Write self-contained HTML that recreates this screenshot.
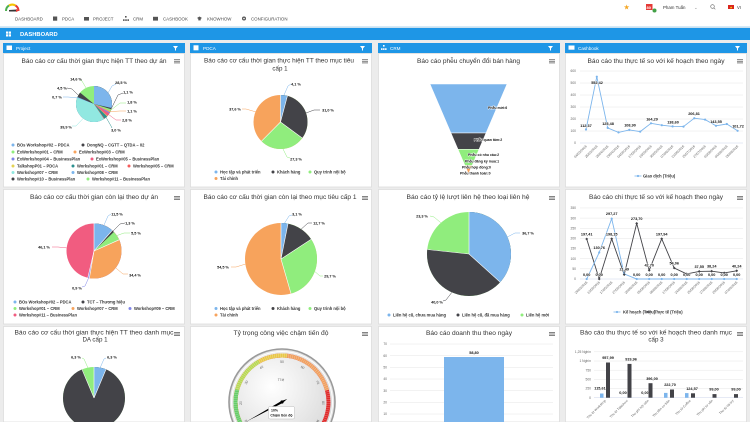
<!DOCTYPE html>
<html><head><meta charset="utf-8"><style>
html,body{margin:0;padding:0;background:#ececec;width:750px;height:422px;overflow:hidden}
svg{display:block;font-family:"Liberation Sans","DejaVu Sans",sans-serif;overflow:hidden}
.nav{font-size:4.4px;fill:#4a4a4a}
.t{font-size:6.2px;fill:#333;text-anchor:middle}
.axr{font-size:3.3px;fill:#666;text-anchor:end}
.ax{font-size:3.3px;fill:#666}
.dl{font-size:3.8px;font-weight:bold;fill:#111;stroke:#fff;stroke-width:.7px;paint-order:stroke;text-anchor:middle}
.fl{font-size:3.5px;font-weight:bold;fill:#111;stroke:#fff;stroke-width:.7px;paint-order:stroke}
.lg{font-size:4.1px;font-weight:bold;fill:#333}
.pl{font-size:3.8px;font-weight:bold;fill:#111;text-anchor:middle}
.ph{font-size:4.6px;fill:#fff}
.gl{font-size:3.4px;fill:#666;text-anchor:middle}
</style></head><body>
<svg width="750" height="422" viewBox="0 0 750 422" xmlns="http://www.w3.org/2000/svg">
<defs>
<radialGradient id="gf" cx="40%" cy="35%" r="70%"><stop offset="0" stop-color="#ffffff"/><stop offset="1" stop-color="#d8d8d8"/></radialGradient>
<clipPath id="cp"><rect x="0" y="0" width="750" height="422"/></clipPath>
</defs>
<rect width="750" height="422" fill="#ececec"/>
<!-- top nav -->
<rect width="750" height="27" fill="#fff"/>
<rect y="26.5" width="750" height="1" fill="#a9d5f2"/>
<rect y="28" width="750" height="12" fill="#1e96e6"/>
<!-- logo -->
<path d="M6,11 A6.5,6.5 0 0 1 9,5.5" fill="none" stroke="#4caf50" stroke-width="2"/>
<path d="M9,5.5 A6.5,6.5 0 0 1 15.5,5.5" fill="none" stroke="#f6c200" stroke-width="2"/>
<path d="M15.5,5.5 A6.5,6.5 0 0 1 18.5,11" fill="none" stroke="#e53935" stroke-width="2"/>
<polygon points="9,10 17,9.5 17,11.5 9,11.5" fill="#333"/>
<polygon points="16,9 19.5,10.5 16,12" fill="#e53935"/>
<text x="15" y="20.5" class="nav">DASHBOARD</text>
<rect x="53" y="16.5" width="4.2" height="4.2" fill="#555"/>
<text x="62" y="20.5" class="nav">PDCA</text>
<rect x="84" y="17" width="5" height="3.6" fill="#555"/>
<text x="93" y="20.5" class="nav">PROJECT</text>
<rect x="125" y="16" width="1.6" height="1.6" fill="#555"/><rect x="123" y="19.3" width="1.6" height="1.6" fill="#555"/><rect x="125.2" y="19.3" width="1.6" height="1.6" fill="#555"/><rect x="127.4" y="19.3" width="1.6" height="1.6" fill="#555"/>
<text x="133" y="20.5" class="nav">CRM</text>
<rect x="153" y="16.8" width="5" height="3.8" fill="#555"/>
<text x="163" y="20.5" class="nav">CASHBOOK</text>
<polygon points="197,18 199.5,16.5 202,18 199.5,19.5" fill="#555"/><rect x="198.3" y="18.6" width="2.4" height="1.8" fill="#555"/>
<text x="207" y="20.5" class="nav">KNOWHOW</text>
<circle cx="244" cy="18.5" r="2" fill="#555"/><circle cx="244" cy="18.5" r="0.8" fill="#fff"/>
<text x="251" y="20.5" class="nav">CONFIGURATION</text>
<text x="623.5" y="9.5" style="font-size:7px;fill:#f5a623">★</text>
<rect x="646" y="4" width="6.5" height="6" fill="#e53935"/>
<text x="646.5" y="9" style="font-size:4px;font-weight:bold;fill:#fff">80</text>
<circle cx="654.5" cy="10.5" r="2" fill="#43a047"/>
<text x="663" y="9" style="font-size:4.4px;fill:#333">Pham Tuấn</text>
<text x="694" y="9" style="font-size:4.4px;fill:#888">⌄</text>
<circle cx="712.5" cy="6.5" r="1.8" fill="none" stroke="#666" stroke-width="0.6"/><line x1="713.8" y1="7.8" x2="715.3" y2="9.3" stroke="#666" stroke-width="0.6"/>
<rect x="728" y="5" width="6" height="4" fill="#da251d"/><text x="729.8" y="8.3" style="font-size:3px;fill:#ff0">★</text>
<text x="737" y="9" style="font-size:4.2px;fill:#333">VI</text>
<!-- dashboard bar -->
<rect x="6" y="31.5" width="2.2" height="2.2" fill="#fff"/><rect x="8.8" y="31.5" width="2.2" height="2.2" fill="#fff"/><rect x="6" y="34.3" width="2.2" height="2.2" fill="#fff"/><rect x="8.8" y="34.3" width="2.2" height="2.2" fill="#fff"/>
<text x="20" y="36.2" style="font-size:5.8px;font-weight:bold;fill:#fff">DASHBOARD</text>

<!-- panel headers -->
<rect x="3" y="43" width="182" height="10" fill="#1e96e6"/>
<rect x="190" y="43" width="182" height="10" fill="#1e96e6"/>
<rect x="378" y="43" width="182" height="10" fill="#1e96e6"/>
<rect x="565" y="43" width="182" height="10" fill="#1e96e6"/>
<rect x="6.5" y="45.5" width="5.5" height="4.5" fill="#fff"/><text x="16" y="49.8" class="ph">Project</text>
<rect x="193.5" y="45.3" width="5" height="5" fill="#fff"/><text x="203" y="49.8" class="ph">PDCA</text>
<rect x="383" y="45" width="1.6" height="1.6" fill="#fff"/><rect x="381" y="48.3" width="1.6" height="1.6" fill="#fff"/><rect x="383" y="48.3" width="1.6" height="1.6" fill="#fff"/><rect x="385" y="48.3" width="1.6" height="1.6" fill="#fff"/><text x="390" y="49.8" class="ph">CRM</text>
<rect x="568.5" y="45.5" width="6" height="4.2" fill="#fff"/><text x="578" y="49.8" class="ph">Cashbook</text>
<polygon points="173,46 178,46 176,48.5 176,50.5 175,50.5 175,48.5" fill="#fff"/>
<polygon points="360,46 365,46 363,48.5 363,50.5 362,50.5 362,48.5" fill="#fff"/>
<polygon points="548,46 553,46 551,48.5 551,50.5 550,50.5 550,48.5" fill="#fff"/>
<polygon points="735,46 740,46 738,48.5 738,50.5 737,50.5 737,48.5" fill="#fff"/>

<!-- chart boxes -->
<g fill="#fff" stroke="#dcdcdc" stroke-width="0.8">
<rect x="3.5" y="53.5" width="181" height="133.5"/><rect x="190.5" y="53.5" width="181" height="133.5"/><rect x="378.5" y="53.5" width="181" height="133.5"/><rect x="565.5" y="53.5" width="181" height="133.5"/>
<rect x="3.5" y="189.5" width="181" height="134.5"/><rect x="190.5" y="189.5" width="181" height="134.5"/><rect x="378.5" y="189.5" width="181" height="134.5"/><rect x="565.5" y="189.5" width="181" height="134.5"/>
<rect x="3.5" y="326.5" width="181" height="95.5"/><rect x="190.5" y="326.5" width="181" height="95.5"/><rect x="378.5" y="326.5" width="181" height="95.5"/><rect x="565.5" y="326.5" width="181" height="95.5"/>
</g>

<!-- hamburgers -->
<g fill="#666">
<rect x="174" y="59.3" width="6" height="0.8"/><rect x="174" y="60.9" width="6" height="0.8"/><rect x="174" y="62.5" width="6" height="0.8"/>
<rect x="362" y="59.3" width="6" height="0.8"/><rect x="362" y="60.9" width="6" height="0.8"/><rect x="362" y="62.5" width="6" height="0.8"/>
<rect x="549" y="59.3" width="6" height="0.8"/><rect x="549" y="60.9" width="6" height="0.8"/><rect x="549" y="62.5" width="6" height="0.8"/>
<rect x="737" y="59.3" width="6" height="0.8"/><rect x="737" y="60.9" width="6" height="0.8"/><rect x="737" y="62.5" width="6" height="0.8"/>
<rect x="174" y="196" width="6" height="0.8"/><rect x="174" y="197.6" width="6" height="0.8"/><rect x="174" y="199.2" width="6" height="0.8"/>
<rect x="362" y="196" width="6" height="0.8"/><rect x="362" y="197.6" width="6" height="0.8"/><rect x="362" y="199.2" width="6" height="0.8"/>
<rect x="549" y="196" width="6" height="0.8"/><rect x="549" y="197.6" width="6" height="0.8"/><rect x="549" y="199.2" width="6" height="0.8"/>
<rect x="737" y="196" width="6" height="0.8"/><rect x="737" y="197.6" width="6" height="0.8"/><rect x="737" y="199.2" width="6" height="0.8"/>
<rect x="174" y="332" width="6" height="0.8"/><rect x="174" y="333.6" width="6" height="0.8"/><rect x="174" y="335.2" width="6" height="0.8"/>
<rect x="362" y="332" width="6" height="0.8"/><rect x="362" y="333.6" width="6" height="0.8"/><rect x="362" y="335.2" width="6" height="0.8"/>
<rect x="549" y="332" width="6" height="0.8"/><rect x="549" y="333.6" width="6" height="0.8"/><rect x="549" y="335.2" width="6" height="0.8"/>
<rect x="737" y="332" width="6" height="0.8"/><rect x="737" y="333.6" width="6" height="0.8"/><rect x="737" y="335.2" width="6" height="0.8"/>
</g>

<!-- titles -->
<text x="94" y="63" class="t" textLength="145" lengthAdjust="spacingAndGlyphs">Báo cáo cơ cấu thời gian thực hiện TT theo dự án</text>
<text x="279" y="62.7" class="t" textLength="150" lengthAdjust="spacingAndGlyphs">Báo cáo cơ cấu thời gian thực hiện TT theo mục tiêu</text>
<text x="280" y="70.3" class="t">cấp 1</text>
<text x="468.5" y="63" class="t" textLength="103" lengthAdjust="spacingAndGlyphs">Báo cáo phễu chuyển đổi bán hàng</text>
<text x="656" y="63" class="t" textLength="137" lengthAdjust="spacingAndGlyphs">Báo cáo thu thực tế so với kế hoạch theo ngày</text>
<text x="94" y="199" class="t" textLength="128" lengthAdjust="spacingAndGlyphs">Báo cáo cơ cấu thời gian còn lại theo dự án</text>
<text x="280" y="199" class="t" textLength="153" lengthAdjust="spacingAndGlyphs">Báo cáo cơ cấu thời gian còn lại theo mục tiêu cấp 1</text>
<text x="468" y="199" class="t" textLength="123" lengthAdjust="spacingAndGlyphs">Báo cáo tỷ lệ lượt liên hệ theo loại liên hệ</text>
<text x="656" y="199" class="t" textLength="134" lengthAdjust="spacingAndGlyphs">Báo cáo chi thực tế so với kế hoạch theo ngày</text>
<text x="94" y="334.7" class="t" textLength="159" lengthAdjust="spacingAndGlyphs">Báo cáo cơ cấu thời gian thực hiện TT theo danh mục</text>
<text x="95" y="341.5" class="t">DA cấp 1</text>
<text x="281" y="335" class="t" textLength="95" lengthAdjust="spacingAndGlyphs">Tỷ trọng công việc chậm tiến độ</text>
<text x="469" y="335" class="t" textLength="86" lengthAdjust="spacingAndGlyphs">Báo cáo doanh thu theo ngày</text>
<text x="656" y="334.7" class="t" textLength="152" lengthAdjust="spacingAndGlyphs">Báo cáo thu thực tế so với kế hoạch theo danh mục</text>
<text x="656" y="341.5" class="t">cấp 3</text>

<!-- CHART 1 pie -->
<g fill="none" stroke-width="18" transform="rotate(-90 94 104)">
<circle cx="94" cy="104" r="18" fill="#90ed7d" stroke="none"/>
<circle cx="94" cy="104" r="9" stroke="#434348" stroke-dasharray="48.293 60"/>
<circle cx="94" cy="104" r="9" stroke="#7cb5ec" stroke-dasharray="45.748 60"/>
<circle cx="94" cy="104" r="9" stroke="#91e8e1" stroke-dasharray="45.352 60"/>
<circle cx="94" cy="104" r="9" stroke="#f45b5b" stroke-dasharray="22.789 60"/>
<circle cx="94" cy="104" r="9" stroke="#2b908f" stroke-dasharray="22.507 60"/>
<circle cx="94" cy="104" r="9" stroke="#e4d354" stroke-dasharray="20.810 60"/>
<circle cx="94" cy="104" r="9" stroke="#f15c80" stroke-dasharray="20.527 60"/>
<circle cx="94" cy="104" r="9" stroke="#8085e9" stroke-dasharray="18.944 60"/>
<circle cx="94" cy="104" r="9" stroke="#f7a35c" stroke-dasharray="18.378 60"/>
<circle cx="94" cy="104" r="9" stroke="#90ed7d" stroke-dasharray="17.756 60"/>
<circle cx="94" cy="104" r="9" stroke="#434348" stroke-dasharray="16.739 60"/>
<circle cx="94" cy="104" r="9" stroke="#7cb5ec" stroke-dasharray="16.116 60"/>
</g>
<g stroke-width="0.5" fill="none">
<polyline points="108,93 112,86 116,84" stroke="#7cb5ec"/>
<polyline points="111.4,108.5 118,95 123,93" stroke="#434348"/>
<polyline points="110.9,110.1 120,103 126,103" stroke="#90ed7d"/>
<polyline points="110.3,111.6 120,111 126,111" stroke="#f7a35c"/>
<polyline points="108.6,114.5 116,120 121,120" stroke="#f15c80"/>
<polyline points="106.1,117.4 111,126 112,128" stroke="#2b908f"/>
<polyline points="83.2,118.4 76,126 72,126" stroke="#91e8e1"/>
<polyline points="77.1,97.8 68,97 63,97" stroke="#7cb5ec"/>
<polyline points="78.3,95.2 72,89 67,88" stroke="#434348"/>
<polyline points="86,87.9 82,81 80,80" stroke="#90ed7d"/>
</g>
<text x="121" y="84" class="pl">28,5 %</text>
<text x="128" y="93.5" class="pl">1,1 %</text>
<text x="132" y="103.5" class="pl">1,8 %</text>
<text x="132" y="112.5" class="pl">1,1 %</text>
<text x="127" y="121.5" class="pl">2,8 %</text>
<text x="116" y="131.5" class="pl">3,0 %</text>
<text x="66" y="128.5" class="pl">39,9 %</text>
<text x="57" y="98.5" class="pl">0,7 %</text>
<text x="62" y="89.5" class="pl">4,5 %</text>
<text x="76" y="80.5" class="pl">14,6 %</text>
<!-- legend 1 -->
<circle cx="13" cy="145" r="1.5" fill="#7cb5ec"/><text x="17" y="146.5" class="lg">BOs Workshop#02 – PDCA</text>
<circle cx="83" cy="145" r="1.5" fill="#434348"/><text x="87" y="146.5" class="lg">DongNQ – CGTT – QTDA – 02</text>
<circle cx="13" cy="152" r="1.5" fill="#90ed7d"/><text x="17" y="153.5" class="lg">ExWorkshop#01 – CRM</text>
<circle cx="75" cy="152" r="1.5" fill="#f7a35c"/><text x="79" y="153.5" class="lg">ExWorkshop#03 – CRM</text>
<circle cx="13" cy="159" r="1.5" fill="#8085e9"/><text x="17" y="160.5" class="lg">ExWorkshop#04 – BusinessPlan</text>
<circle cx="92" cy="159" r="1.5" fill="#f15c80"/><text x="96" y="160.5" class="lg">ExWorkshop#05 – BusinessPlan</text>
<circle cx="13" cy="166" r="1.5" fill="#e4d354"/><text x="17" y="167.5" class="lg">TalkshopP01 – PDCA</text>
<circle cx="73" cy="166" r="1.5" fill="#2b908f"/><text x="77" y="167.5" class="lg">Workshop#01 – CRM</text>
<circle cx="129" cy="166" r="1.5" fill="#f45b5b"/><text x="133" y="167.5" class="lg">Workshop#05 – CRM</text>
<circle cx="13" cy="172.5" r="1.5" fill="#91e8e1"/><text x="17" y="174" class="lg">Workshop#07 – CRM</text>
<circle cx="73" cy="172.5" r="1.5" fill="#7cb5ec"/><text x="77" y="174" class="lg">Workshop#08 – CRM</text>
<circle cx="13" cy="179" r="1.5" fill="#434348"/><text x="17" y="180.5" class="lg">Workshop#10 – BusinessPlan</text>
<circle cx="88" cy="179" r="1.5" fill="#90ed7d"/><text x="92" y="180.5" class="lg">Workshop#11 – BusinessPlan</text>

<!-- CHART 2 pie -->
<g fill="none" stroke-width="27" transform="rotate(-90 280.5 122)">
<circle cx="280.5" cy="122" r="27" fill="#f7a35c" stroke="none"/>
<circle cx="280.5" cy="122" r="13.5" stroke="#90ed7d" stroke-dasharray="52.930 90"/>
<circle cx="280.5" cy="122" r="13.5" stroke="#434348" stroke-dasharray="29.773 90"/>
<circle cx="280.5" cy="122" r="13.5" stroke="#7cb5ec" stroke-dasharray="3.478 90"/>
</g>
<g stroke="#fff" stroke-width="0.6">
<line x1="280.5" y1="122" x2="280.5" y2="95"/><line x1="280.5" y1="122" x2="287.4" y2="95.9"/><line x1="280.5" y1="122" x2="302.2" y2="138"/><line x1="280.5" y1="122" x2="261.5" y2="141.2"/>
</g>
<g stroke-width="0.5" fill="none">
<polyline points="284,95 288,86 291,84" stroke="#7cb5ec"/>
<polyline points="306,113 314,110 320,110" stroke="#434348"/>
<polyline points="283,149 287,157 290,158" stroke="#90ed7d"/>
<polyline points="255.5,111.8 246,109 242,109" stroke="#f7a35c"/>
</g>
<text x="296" y="85.5" class="pl">4,1 %</text>
<text x="328" y="111.5" class="pl">31,0 %</text>
<text x="296" y="160.5" class="pl">27,3 %</text>
<text x="235" y="110.5" class="pl">37,6 %</text>
<circle cx="216" cy="172" r="1.5" fill="#7cb5ec"/><text x="220" y="173.5" class="lg">Học tập và phát triển</text>
<circle cx="273" cy="172" r="1.5" fill="#434348"/><text x="277" y="173.5" class="lg">Khách hàng</text>
<circle cx="310" cy="172" r="1.5" fill="#90ed7d"/><text x="314" y="173.5" class="lg">Quy trình nội bộ</text>
<circle cx="216" cy="178.5" r="1.5" fill="#f7a35c"/><text x="220" y="180" class="lg">Tài chính</text>

<!-- CHART 3 funnel -->
<g stroke="#fff" stroke-width="0.5">
<polygon points="430,84 507,84 486,133 451,133" fill="#7cb5ec"/>
<polygon points="451,133 486,133 479,149.3 458,149.3" fill="#434348"/>
<polygon points="458,149.3 479,149.3 472,165.6 465,165.6" fill="#90ed7d"/>
<polygon points="465,165.6 472,165.6 468.5,173.8" fill="#f7a35c"/>
</g>
<text x="488" y="109.2" class="fl">Phễu mới:6</text>
<text x="474" y="141" class="fl">Phễu quan tâm:2</text>
<text x="468" y="156" class="fl">Phễu có nhu cầu:2</text>
<text x="465" y="162.3" class="fl">Phễu đăng ký mua:1</text>
<text x="462" y="168.5" class="fl">Phễu hợp đồng:0</text>
<text x="460" y="174.5" class="fl">Phễu thanh toán:0</text>

<!-- CHART 4 line -->
<g stroke="#e6e6e6" stroke-width="0.5">
<line x1="580" y1="71" x2="743" y2="71"/><line x1="580" y1="83" x2="743" y2="83"/><line x1="580" y1="95" x2="743" y2="95"/><line x1="580" y1="107" x2="743" y2="107"/><line x1="580" y1="119" x2="743" y2="119"/><line x1="580" y1="131" x2="743" y2="131"/>
</g>
<line x1="580" y1="143" x2="743" y2="143" stroke="#ccd6eb" stroke-width="0.5"/>
<text x="576" y="72.2" class="axr">600</text><text x="576" y="84.2" class="axr">500</text><text x="576" y="96.2" class="axr">400</text><text x="576" y="108.2" class="axr">300</text><text x="576" y="120.2" class="axr">200</text><text x="576" y="132.2" class="axr">100</text><text x="576" y="144.2" class="axr">0</text>
<polyline points="586,129.5 596.8,76.7 607.7,127.9 618.5,132.4 629.3,129.9 640.2,131.6 651,123.3 661.8,125.2 672.6,126.4 683.5,126.6 694.3,118.2 705.1,119.6 716,125.8 726.8,124 737.6,130.8" fill="none" stroke="#7cb5ec" stroke-width="0.9"/>
<g fill="#7cb5ec">
<circle cx="586" cy="129.5" r="1.1"/><circle cx="596.8" cy="76.7" r="1.1"/><circle cx="607.7" cy="127.9" r="1.1"/><circle cx="618.5" cy="132.4" r="1.1"/><circle cx="629.3" cy="129.9" r="1.1"/><circle cx="640.2" cy="131.6" r="1.1"/><circle cx="651" cy="123.3" r="1.1"/><circle cx="661.8" cy="125.2" r="1.1"/><circle cx="672.6" cy="126.4" r="1.1"/><circle cx="683.5" cy="126.6" r="1.1"/><circle cx="694.3" cy="118.2" r="1.1"/><circle cx="705.1" cy="119.6" r="1.1"/><circle cx="716" cy="125.8" r="1.1"/><circle cx="726.8" cy="124" r="1.1"/><circle cx="737.6" cy="130.8" r="1.1"/>
</g>
<text x="586" y="127" class="dl">112,37</text>
<text x="597" y="84" class="dl">552,42</text>
<text x="608" y="125" class="dl">125,48</text>
<text x="630" y="126.5" class="dl">108,90</text>
<text x="652" y="120.5" class="dl">164,29</text>
<text x="673" y="123.5" class="dl">138,60</text>
<text x="694" y="115" class="dl">206,81</text>
<text x="716" y="123" class="dl">143,55</text>
<text x="738" y="127.5" class="dl">101,72</text>
<text x="587" y="146.5" transform="rotate(-45 587 146.5)" text-anchor="end" class="ax">04/03/2016</text>
<text x="597.8" y="146.5" transform="rotate(-45 597.8 146.5)" text-anchor="end" class="ax">26/03/2016</text>
<text x="608.7" y="146.5" transform="rotate(-45 608.7 146.5)" text-anchor="end" class="ax">28/04/2016</text>
<text x="619.5" y="146.5" transform="rotate(-45 619.5 146.5)" text-anchor="end" class="ax">29/04/2016</text>
<text x="630.3" y="146.5" transform="rotate(-45 630.3 146.5)" text-anchor="end" class="ax">04/05/2016</text>
<text x="641.2" y="146.5" transform="rotate(-45 641.2 146.5)" text-anchor="end" class="ax">17/05/2016</text>
<text x="652" y="146.5" transform="rotate(-45 652 146.5)" text-anchor="end" class="ax">19/05/2016</text>
<text x="662.8" y="146.5" transform="rotate(-45 662.8 146.5)" text-anchor="end" class="ax">30/05/2016</text>
<text x="673.6" y="146.5" transform="rotate(-45 673.6 146.5)" text-anchor="end" class="ax">07/06/2016</text>
<text x="684.5" y="146.5" transform="rotate(-45 684.5 146.5)" text-anchor="end" class="ax">21/06/2016</text>
<text x="695.3" y="146.5" transform="rotate(-45 695.3 146.5)" text-anchor="end" class="ax">25/07/2016</text>
<text x="706.1" y="146.5" transform="rotate(-45 706.1 146.5)" text-anchor="end" class="ax">27/07/2016</text>
<text x="717" y="146.5" transform="rotate(-45 717 146.5)" text-anchor="end" class="ax">03/08/2016</text>
<text x="727.8" y="146.5" transform="rotate(-45 727.8 146.5)" text-anchor="end" class="ax">04/08/2016</text>
<text x="738.6" y="146.5" transform="rotate(-45 738.6 146.5)" text-anchor="end" class="ax">26/08/2016</text>
<line x1="634.5" y1="176" x2="641.5" y2="176" stroke="#7cb5ec" stroke-width="0.8"/><circle cx="638" cy="176" r="1.1" fill="#7cb5ec"/>
<text x="643" y="177.5" class="lg">Giao dịch (Triệu)</text>

<!-- CHART 5 pie -->
<g fill="none" stroke-width="27.5" transform="rotate(-90 94 251)">
<circle cx="94" cy="251" r="27.5" fill="#f15c80" stroke="none"/>
<circle cx="94" cy="251" r="13.75" stroke="#8085e9" stroke-dasharray="46.307 90"/>
<circle cx="94" cy="251" r="13.75" stroke="#f7a35c" stroke-dasharray="45.530 90"/>
<circle cx="94" cy="251" r="13.75" stroke="#90ed7d" stroke-dasharray="15.810 90"/>
<circle cx="94" cy="251" r="13.75" stroke="#434348" stroke-dasharray="11.058 90"/>
<circle cx="94" cy="251" r="13.75" stroke="#7cb5ec" stroke-dasharray="9.935 90"/>
</g>
<g stroke="#fff" stroke-width="0.6">
<line x1="94" y1="251" x2="94" y2="223.5"/><line x1="94" y1="251" x2="112.2" y2="230.4"/><line x1="94" y1="251" x2="119.1" y2="239.8"/><line x1="94" y1="251" x2="89.4" y2="278.1"/><line x1="94" y1="251" x2="87.8" y2="277.8"/>
</g>
<g stroke-width="0.5" fill="none">
<polyline points="104,225 108,216 111,214" stroke="#7cb5ec"/>
<polyline points="113,231.1 120,224 125,223" stroke="#434348"/>
<polyline points="116.8,235.6 124,233 130,233" stroke="#90ed7d"/>
<polyline points="115.7,267.9 123,274 128,274" stroke="#f7a35c"/>
<polyline points="88.6,278 85,286 82,287" stroke="#8085e9"/>
<polyline points="66.7,247.9 58,247 52,247" stroke="#f15c80"/>
</g>
<text x="117" y="215.5" class="pl">11,5 %</text>
<text x="130" y="224.5" class="pl">1,3 %</text>
<text x="136" y="234.5" class="pl">5,5 %</text>
<text x="135" y="276.5" class="pl">34,4 %</text>
<text x="77" y="289.5" class="pl">0,9 %</text>
<text x="44" y="248.5" class="pl">46,1 %</text>
<circle cx="15" cy="302" r="1.5" fill="#7cb5ec"/><text x="19" y="303.5" class="lg">BOs Workshop#02 – PDCA</text>
<circle cx="83" cy="302" r="1.5" fill="#434348"/><text x="87" y="303.5" class="lg">TCT – Thương hiệu</text>
<circle cx="15" cy="308.5" r="1.5" fill="#90ed7d"/><text x="19" y="310" class="lg">Workshop#01 – CRM</text>
<circle cx="73" cy="308.5" r="1.5" fill="#f7a35c"/><text x="77" y="310" class="lg">Workshop#07 – CRM</text>
<circle cx="130" cy="308.5" r="1.5" fill="#8085e9"/><text x="134" y="310" class="lg">Workshop#09 – CRM</text>
<circle cx="15" cy="315" r="1.5" fill="#f15c80"/><text x="19" y="316.5" class="lg">Workshop#11 – BusinessPlan</text>

<!-- CHART 6 pie -->
<g fill="none" stroke-width="36" transform="rotate(-90 281 259)">
<circle cx="281" cy="259" r="36" fill="#f7a35c" stroke="none"/>
<circle cx="281" cy="259" r="18" stroke="#90ed7d" stroke-dasharray="51.459 120"/>
<circle cx="281" cy="259" r="18" stroke="#434348" stroke-dasharray="17.869 120"/>
<circle cx="281" cy="259" r="18" stroke="#7cb5ec" stroke-dasharray="3.506 120"/>
</g>
<g stroke="#fff" stroke-width="0.6">
<line x1="281" y1="259" x2="281" y2="223"/><line x1="281" y1="259" x2="288" y2="223.7"/><line x1="281" y1="259" x2="311.2" y2="239.3"/><line x1="281" y1="259" x2="291" y2="293.6"/>
</g>
<g stroke-width="0.5" fill="none">
<polyline points="284.5,223.2 289,216 292,215" stroke="#7cb5ec"/>
<polyline points="301.1,229.2 308,223 312,223" stroke="#434348"/>
<polyline points="314.8,271.5 320,276 323,276" stroke="#90ed7d"/>
<polyline points="245.4,264.1 236,267 231,267" stroke="#f7a35c"/>
</g>
<text x="297" y="215.5" class="pl">3,1 %</text>
<text x="319" y="224.5" class="pl">12,7 %</text>
<text x="330" y="277.5" class="pl">29,7 %</text>
<text x="223" y="268.5" class="pl">54,5 %</text>
<circle cx="216" cy="308.5" r="1.5" fill="#7cb5ec"/><text x="220" y="310" class="lg">Học tập và phát triển</text>
<circle cx="273" cy="308.5" r="1.5" fill="#434348"/><text x="277" y="310" class="lg">Khách hàng</text>
<circle cx="310" cy="308.5" r="1.5" fill="#90ed7d"/><text x="314" y="310" class="lg">Quy trình nội bộ</text>
<circle cx="216" cy="315" r="1.5" fill="#f7a35c"/><text x="220" y="316.5" class="lg">Tài chính</text>

<!-- CHART 7 pie -->
<g fill="none" stroke-width="42" transform="rotate(-90 469 254)">
<circle cx="469" cy="254" r="42" fill="#90ed7d" stroke="none"/>
<circle cx="469" cy="254" r="21" stroke="#434348" stroke-dasharray="101.203 140"/>
<circle cx="469" cy="254" r="21" stroke="#7cb5ec" stroke-dasharray="48.425 140"/>
</g>
<g stroke="#fff" stroke-width="0.6">
<line x1="469" y1="254" x2="469" y2="212"/><line x1="469" y1="254" x2="500.2" y2="282.2"/><line x1="469" y1="254" x2="427.2" y2="249.5"/>
</g>
<g stroke-width="0.5" fill="none">
<polyline points="507.4,237 515,233 520,233" stroke="#7cb5ec"/>
<polyline points="451.9,292.3 446,300 443,301" stroke="#434348"/>
<polyline points="440.9,222.8 434,217 430,216" stroke="#90ed7d"/>
</g>
<text x="528" y="234.5" class="pl">36,7 %</text>
<text x="437" y="303.5" class="pl">40,0 %</text>
<text x="422" y="217.5" class="pl">23,3 %</text>
<circle cx="389" cy="315" r="1.5" fill="#7cb5ec"/><text x="393" y="316.5" class="lg">Liên hệ cũ, chưa mua hàng</text>
<circle cx="458" cy="315" r="1.5" fill="#434348"/><text x="462" y="316.5" class="lg">Liên hệ cũ, đã mua hàng</text>
<circle cx="522" cy="315" r="1.5" fill="#90ed7d"/><text x="526" y="316.5" class="lg">Liên hệ mới</text>

<!-- CHART 8 line -->
<g stroke="#e6e6e6" stroke-width="0.5">
<line x1="580" y1="207.95" x2="743" y2="207.95"/><line x1="580" y1="218.1" x2="743" y2="218.1"/><line x1="580" y1="228.25" x2="743" y2="228.25"/><line x1="580" y1="238.4" x2="743" y2="238.4"/><line x1="580" y1="248.55" x2="743" y2="248.55"/><line x1="580" y1="258.7" x2="743" y2="258.7"/><line x1="580" y1="268.85" x2="743" y2="268.85"/>
</g>
<line x1="580" y1="279" x2="743" y2="279" stroke="#ccd6eb" stroke-width="0.5"/>
<text x="576" y="209.1" class="axr">350</text><text x="576" y="219.3" class="axr">300</text><text x="576" y="229.4" class="axr">250</text><text x="576" y="239.6" class="axr">200</text><text x="576" y="249.7" class="axr">150</text><text x="576" y="259.9" class="axr">100</text><text x="576" y="270" class="axr">50</text><text x="576" y="280.2" class="axr">0</text>
<polyline points="586.7,239 599.2,279 611.7,238.8 624.2,274.6 636.7,223.4 649.2,270.3 661.7,238.8 674.2,268 686.7,273.9 699.2,271.4 711.7,271.2 724.2,272.9 736.7,270.8" fill="none" stroke="#434348" stroke-width="0.9"/>
<polyline points="586.7,279 599.2,252.5 611.7,218.7 624.2,273.9 636.7,279 736.7,279" fill="none" stroke="#7cb5ec" stroke-width="0.9"/>
<g fill="#7cb5ec">
<circle cx="586.7" cy="279" r="1.1"/><circle cx="599.2" cy="252.5" r="1.1"/><circle cx="611.7" cy="218.7" r="1.1"/><circle cx="624.2" cy="273.9" r="1.1"/><circle cx="636.7" cy="279" r="1.1"/><circle cx="649.2" cy="279" r="1.1"/><circle cx="661.7" cy="279" r="1.1"/><circle cx="674.2" cy="279" r="1.1"/><circle cx="686.7" cy="279" r="1.1"/><circle cx="699.2" cy="279" r="1.1"/><circle cx="711.7" cy="279" r="1.1"/><circle cx="724.2" cy="279" r="1.1"/><circle cx="736.7" cy="279" r="1.1"/>
</g>
<g fill="#434348">
<rect x="585.7" y="238" width="2" height="2" transform="rotate(45 586.7 239)"/><rect x="598.2" y="278" width="2" height="2" transform="rotate(45 599.2 279)"/><rect x="610.7" y="237.8" width="2" height="2" transform="rotate(45 611.7 238.8)"/><rect x="623.2" y="273.6" width="2" height="2" transform="rotate(45 624.2 274.6)"/><rect x="635.7" y="222.4" width="2" height="2" transform="rotate(45 636.7 223.4)"/><rect x="648.2" y="269.3" width="2" height="2" transform="rotate(45 649.2 270.3)"/><rect x="660.7" y="237.8" width="2" height="2" transform="rotate(45 661.7 238.8)"/><rect x="673.2" y="267" width="2" height="2" transform="rotate(45 674.2 268)"/><rect x="685.7" y="272.9" width="2" height="2" transform="rotate(45 686.7 273.9)"/><rect x="698.2" y="270.4" width="2" height="2" transform="rotate(45 699.2 271.4)"/><rect x="710.7" y="270.2" width="2" height="2" transform="rotate(45 711.7 271.2)"/><rect x="723.2" y="271.9" width="2" height="2" transform="rotate(45 724.2 272.9)"/><rect x="735.7" y="269.8" width="2" height="2" transform="rotate(45 736.7 270.8)"/>
</g>
<text x="586.7" y="235.5" class="dl">197,41</text>
<text x="586.7" y="276" class="dl">0,00</text>
<text x="599.2" y="249" class="dl">130,76</text>
<text x="599.2" y="276" class="dl">0,00</text>
<text x="611.7" y="215" class="dl">297,27</text>
<text x="611.7" y="235.3" class="dl">198,15</text>
<text x="624.2" y="270.5" class="dl">21,49</text>
<text x="636.7" y="220" class="dl">273,70</text>
<text x="636.7" y="276" class="dl">0,00</text>
<text x="649.2" y="266.5" class="dl">42,70</text>
<text x="649.2" y="276" class="dl">0,00</text>
<text x="661.7" y="235.3" class="dl">197,94</text>
<text x="661.7" y="276" class="dl">0,00</text>
<text x="674.2" y="264.5" class="dl">54,06</text>
<text x="674.2" y="276" class="dl">0,00</text>
<text x="686.7" y="276" class="dl">0,00</text>
<text x="699.2" y="267.8" class="dl">37,55</text>
<text x="699.2" y="276" class="dl">0,00</text>
<text x="711.7" y="267.6" class="dl">38,24</text>
<text x="711.7" y="276" class="dl">0,00</text>
<text x="724.2" y="276" class="dl">0,00</text>
<text x="736.7" y="267.3" class="dl">40,24</text>
<text x="736.7" y="276" class="dl">0,00</text>
<text x="587.7" y="282.5" transform="rotate(-45 587.7 282.5)" text-anchor="end" class="ax">29/03/2016</text>
<text x="600.2" y="282.5" transform="rotate(-45 600.2 282.5)" text-anchor="end" class="ax">13/05/2016</text>
<text x="612.7" y="282.5" transform="rotate(-45 612.7 282.5)" text-anchor="end" class="ax">17/05/2016</text>
<text x="625.2" y="282.5" transform="rotate(-45 625.2 282.5)" text-anchor="end" class="ax">27/05/2016</text>
<text x="637.7" y="282.5" transform="rotate(-45 637.7 282.5)" text-anchor="end" class="ax">20/06/2016</text>
<text x="650.2" y="282.5" transform="rotate(-45 650.2 282.5)" text-anchor="end" class="ax">05/08/2016</text>
<text x="662.7" y="282.5" transform="rotate(-45 662.7 282.5)" text-anchor="end" class="ax">08/08/2016</text>
<text x="675.2" y="282.5" transform="rotate(-45 675.2 282.5)" text-anchor="end" class="ax">17/08/2016</text>
<text x="687.7" y="282.5" transform="rotate(-45 687.7 282.5)" text-anchor="end" class="ax">24/08/2016</text>
<text x="700.2" y="282.5" transform="rotate(-45 700.2 282.5)" text-anchor="end" class="ax">25/08/2016</text>
<text x="712.7" y="282.5" transform="rotate(-45 712.7 282.5)" text-anchor="end" class="ax">27/08/2016</text>
<text x="725.2" y="282.5" transform="rotate(-45 725.2 282.5)" text-anchor="end" class="ax">29/08/2016</text>
<text x="737.7" y="282.5" transform="rotate(-45 737.7 282.5)" text-anchor="end" class="ax">07/09/2016</text>
<line x1="613.5" y1="312" x2="620.5" y2="312" stroke="#7cb5ec" stroke-width="0.8"/><circle cx="617" cy="312" r="1.1" fill="#7cb5ec"/>
<text x="623" y="313.5" class="lg">Kế hoạch (Triệu)</text>
<line x1="644.5" y1="312" x2="651.5" y2="312" stroke="#434348" stroke-width="0.8"/><rect x="647" y="311" width="2" height="2" fill="#434348" transform="rotate(45 648 312)"/>
<text x="654" y="313.5" class="lg">Thực tế (Triệu)</text>

<!-- CHART 9 pie -->
<g clip-path="url(#cp)">
<g fill="none" stroke-width="31" transform="rotate(-90 94 398)">
<circle cx="94" cy="398" r="31" fill="#90ed7d" stroke="none"/>
<circle cx="94" cy="398" r="15.5" stroke="#434348" stroke-dasharray="91.254 100"/>
<circle cx="94" cy="398" r="15.5" stroke="#7cb5ec" stroke-dasharray="6.136 100"/>
</g>
<g stroke="#fff" stroke-width="0.6">
<line x1="94" y1="398" x2="94" y2="367"/><line x1="94" y1="398" x2="106" y2="369.4"/><line x1="94" y1="398" x2="82" y2="369.4"/>
</g>
</g>
<polyline points="100,368 104,359 106,358" stroke="#7cb5ec" stroke-width="0.5" fill="none"/>
<polyline points="88,368 84,359 82,358" stroke="#90ed7d" stroke-width="0.5" fill="none"/>
<text x="112" y="358.5" class="pl">6,3 %</text>
<text x="76" y="358.5" class="pl">6,3 %</text>

<!-- CHART 10 gauge -->
<g clip-path="url(#cp)">
<circle cx="282" cy="402" r="53" fill="#e6e6e6" stroke="#9a9a9a" stroke-width="1.6"/>
<circle cx="282" cy="402" r="50.5" fill="url(#gf)" stroke="#fff" stroke-width="1"/>
<g fill="none" stroke-width="4" transform="rotate(120 282 402)">
<circle cx="282" cy="402" r="46.5" stroke="#df2a2a" stroke-dasharray="243.5 300"/>
<circle cx="282" cy="402" r="46.5" stroke="#f0a060" stroke-dasharray="182.6 300"/>
<circle cx="282" cy="402" r="46.5" stroke="#e8c84a" stroke-dasharray="126.6 300"/>
<circle cx="282" cy="402" r="46.5" stroke="#b8d856" stroke-dasharray="97.4 300"/>
<circle cx="282" cy="402" r="46.5" stroke="#66cc6a" stroke-dasharray="60.9 300"/>
<circle cx="282" cy="402" r="46.5" stroke="#fff" stroke-opacity="0.45" stroke-dasharray="0.4 1.6"/>
</g>
<text x="247.4" y="421" class="gl" transform="rotate(-120 247.4 421)">10</text>
<text x="242" y="403" class="gl" transform="rotate(-90 242 403)">20</text>
<text x="247.4" y="383" class="gl" transform="rotate(-60 247.4 383)">30</text>
<text x="262" y="368.4" class="gl" transform="rotate(-30 262 368.4)">40</text>
<text x="282" y="363" class="gl">50</text>
<text x="302" y="368.4" class="gl" transform="rotate(30 302 368.4)">60</text>
<text x="316.6" y="383" class="gl" transform="rotate(60 316.6 383)">70</text>
<text x="322" y="403" class="gl" transform="rotate(90 322 403)">80</text>
<text x="316.6" y="421" class="gl" transform="rotate(120 316.6 421)">90</text>
<text x="281" y="381" class="gl">Tỉ lệ</text>
<polygon points="245.6,422 282.6,403.04 287.2,399 281.4,400.96" fill="#000"/>
<circle cx="282" cy="402" r="1.6" fill="#000"/>
</g>
<rect x="268.5" y="406.5" width="26" height="12.5" rx="1.5" fill="#fff" stroke="#bbb" stroke-width="0.5"/>
<text x="271" y="411.3" style="font-size:3.5px;font-weight:bold;fill:#111">10%</text>
<text x="281.5" y="416.5" style="font-size:3.5px;font-weight:bold;fill:#111;text-anchor:middle">Chậm tiến độ</text>

<!-- CHART 11 bar -->
<g stroke="#e6e6e6" stroke-width="0.5">
<line x1="390" y1="344" x2="553" y2="344"/><line x1="390" y1="355.7" x2="553" y2="355.7"/><line x1="390" y1="367.3" x2="553" y2="367.3"/><line x1="390" y1="379" x2="553" y2="379"/><line x1="390" y1="390.7" x2="553" y2="390.7"/><line x1="390" y1="402.3" x2="553" y2="402.3"/><line x1="390" y1="414" x2="553" y2="414"/>
</g>
<text x="387" y="345.2" class="axr">70</text><text x="387" y="356.9" class="axr">60</text><text x="387" y="368.5" class="axr">50</text><text x="387" y="380.2" class="axr">40</text><text x="387" y="391.9" class="axr">30</text><text x="387" y="403.5" class="axr">20</text><text x="387" y="415.2" class="axr">10</text>
<rect x="444" y="357" width="60" height="65" fill="#7cb5ec"/>
<text x="474" y="354" class="dl">58,80</text>

<!-- CHART 12 columns -->
<g stroke="#e6e6e6" stroke-width="0.5">
<line x1="594" y1="351.8" x2="743" y2="351.8"/><line x1="594" y1="361" x2="743" y2="361"/><line x1="594" y1="370.2" x2="743" y2="370.2"/><line x1="594" y1="379.3" x2="743" y2="379.3"/><line x1="594" y1="388.5" x2="743" y2="388.5"/>
</g>
<line x1="594" y1="397.7" x2="743" y2="397.7" stroke="#ccd6eb" stroke-width="0.5"/>
<text x="591" y="353" class="axr">1,25 Nghìn</text><text x="591" y="362.2" class="axr">1 Nghìn</text><text x="591" y="371.4" class="axr">750</text><text x="591" y="380.5" class="axr">500</text><text x="591" y="389.7" class="axr">250</text><text x="591" y="398.9" class="axr">0</text>
<g fill="#7cb5ec">
<rect x="600" y="393.5" width="3.5" height="4.2"/><rect x="664" y="392.9" width="3.5" height="4.8"/><rect x="685" y="393.1" width="3.5" height="4.6"/>
</g>
<g fill="#434348">
<rect x="606" y="362.5" width="4" height="35.2"/><rect x="627.5" y="363.9" width="4" height="33.8"/><rect x="648.5" y="383.2" width="4" height="14.5"/><rect x="670" y="389.5" width="4" height="8.2"/><rect x="691" y="393.3" width="4" height="4.4"/><rect x="712.5" y="394.1" width="4" height="3.6"/><rect x="734" y="394.1" width="4" height="3.6"/>
</g>
<text x="600" y="389.5" class="dl">115,61</text>
<text x="608" y="359" class="dl">957,99</text>
<text x="623" y="394" class="dl">0,00</text>
<text x="631" y="360.5" class="dl">919,96</text>
<text x="645" y="394" class="dl">0,00</text>
<text x="652" y="380" class="dl">396,00</text>
<text x="670" y="386" class="dl">222,70</text>
<text x="692" y="390" class="dl">124,57</text>
<text x="714" y="390.5" class="dl">99,00</text>
<text x="736" y="390.5" class="dl">99,00</text>
<g clip-path="url(#cp)">
<text x="606" y="401" transform="rotate(-45 606 401)" text-anchor="end" class="ax">Thu từ Workshop</text>
<text x="628" y="401" transform="rotate(-45 628 401)" text-anchor="end" class="ax">Thu từ Talkshow</text>
<text x="649" y="401" transform="rotate(-45 649 401)" text-anchor="end" class="ax">Thu phí hội viên</text>
<text x="670" y="401" transform="rotate(-45 670 401)" text-anchor="end" class="ax">Thu tiền cơ bản</text>
<text x="691" y="401" transform="rotate(-45 691 401)" text-anchor="end" class="ax">Thu từ Coffee</text>
<text x="713" y="401" transform="rotate(-45 713 401)" text-anchor="end" class="ax">Thu phí tư vấn</text>
<text x="734" y="401" transform="rotate(-45 734 401)" text-anchor="end" class="ax">Thu từ tài trợ</text>
</g>
</svg>
</body></html>
